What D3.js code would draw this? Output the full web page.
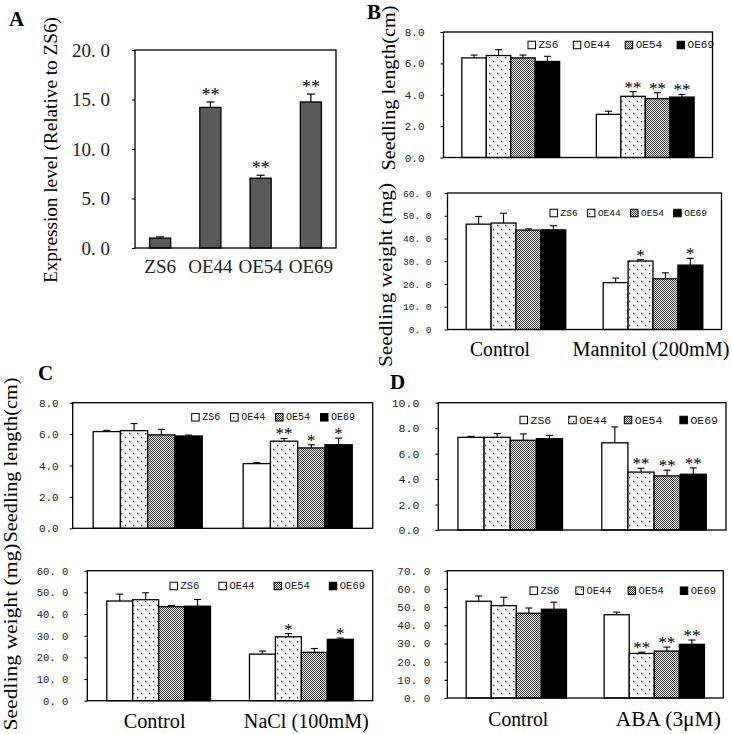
<!DOCTYPE html>
<html>
<head>
<meta charset="utf-8">
<script src="https://cdn.jsdelivr.net/npm/d3@7"></script>
<style>
body{margin:0;background:#fff;}
svg{display:block;}
</style>
</head>
<body>
<script>
// ---------------- DATA ----------------
const lines = ["ZS6", "OE44", "OE54", "OE69"];

// Panel A: expression level
const exprValues = [1.0, 14.2, 7.05, 14.75];
const exprErrors = [0.12, 0.55, 0.3, 0.8];
const exprStars  = ["", "**", "**", "**"];

// Panel B: mannitol
const mannitolConditions = ["Control", "Mannitol (200mM)"];
const mannitolLength     = [[6.35, 6.5, 6.35, 6.12], [2.75, 3.9, 3.75, 3.85]];
const mannitolLengthErr  = [[0.18, 0.37, 0.18, 0.33], [0.2, 0.3, 0.38, 0.17]];
const mannitolLengthStar = [["", "", "", ""], ["", "**", "**", "**"]];
const mannitolWeight     = [[46.3, 46.8, 43.7, 43.8], [20.6, 30.1, 22.3, 28.3]];
const mannitolWeightErr  = [[3.4, 4.3, 0.5, 1.8], [2.0, 0.6, 2.6, 3.0]];
const mannitolWeightStar = [["", "", "", ""], ["", "*", "", "*"]];

// Panel C: NaCl
const naclConditions = ["Control", "NaCl (100mM)"];
const naclLength     = [[6.16, 6.22, 5.95, 5.88], [4.12, 5.55, 5.12, 5.32]];
const naclLengthErr  = [[0.08, 0.45, 0.35, 0.06], [0.07, 0.17, 0.2, 0.42]];
const naclLengthStar = [["", "", "", ""], ["", "**", "*", "*"]];
const naclWeight     = [[46.0, 46.6, 43.4, 43.6], [21.5, 29.5, 22.3, 28.3]];
const naclWeightErr  = [[3.2, 3.2, 0.5, 3.1], [1.4, 1.5, 1.8, 0.6]];
const naclWeightStar = [["", "", "", ""], ["", "*", "", "*"]];

// Panel D: ABA
const abaConditions = ["Control", "ABA (3\u03bcM)"];
const abaLength     = [[7.28, 7.28, 7.05, 7.17], [6.85, 4.55, 4.25, 4.38]];
const abaLengthErr  = [[0.08, 0.3, 0.5, 0.26], [1.25, 0.3, 0.45, 0.5]];
const abaLengthStar = [["", "", "", ""], ["", "**", "**", "**"]];
const abaWeight     = [[53.2, 50.8, 46.6, 48.8], [45.8, 24.5, 25.8, 29.5]];
const abaWeightErr  = [[2.9, 4.6, 2.9, 3.9], [1.4, 0.7, 2.2, 2.4]];
const abaWeightStar = [["", "", "", ""], ["", "**", "**", "**"]];

// ---------------- DRAWING ----------------
const SERIF = "'Liberation Serif','Times New Roman',serif";
const MONO = "'Liberation Mono','Courier New',monospace";

const svg = d3.select("body").append("svg").attr("width", 732).attr("height", 734);
const defs = svg.append("defs");
const pd = defs.append("pattern").attr("id", "dots").attr("patternUnits", "userSpaceOnUse")
  .attr("width", 8).attr("height", 8);
pd.append("rect").attr("width", 8).attr("height", 8).attr("fill", "#fff");
pd.append("rect").attr("x", 1).attr("y", 1).attr("width", 1.3).attr("height", 1.3).attr("fill", "#222");
pd.append("rect").attr("x", 5).attr("y", 5).attr("width", 1.3).attr("height", 1.3).attr("fill", "#222");
const pc = defs.append("pattern").attr("id", "checker").attr("patternUnits", "userSpaceOnUse")
  .attr("width", 2).attr("height", 2);
pc.append("rect").attr("width", 2).attr("height", 2).attr("fill", "#f2f2f2");
pc.append("rect").attr("x", 0).attr("y", 0).attr("width", 1).attr("height", 1).attr("fill", "#3a3a3a");
pc.append("rect").attr("x", 1).attr("y", 1).attr("width", 1).attr("height", 1).attr("fill", "#3a3a3a");

const fillScale = d3.scaleOrdinal().domain(lines).range(["#fff", "url(#dots)", "url(#checker)", "#000"]);

function yTitle(text, cx, cy, len, size) {
  svg.append("text").attr("transform", `translate(${cx},${cy}) rotate(-90)`)
    .attr("text-anchor", "middle").attr("dominant-baseline", "central")
    .attr("font-family", SERIF).attr("font-size", size)
    .attr("textLength", len).attr("lengthAdjust", "spacingAndGlyphs")
    .text(text);
}
function letter(t, x, y) {
  svg.append("text").attr("x", x).attr("y", y).attr("font-family", SERIF)
    .attr("font-weight", "bold").attr("font-size", 21).text(t);
}

function styleAxis(sel, font, size) {
  sel.select(".domain").remove();
  sel.selectAll(".tick line").attr("stroke", "#000");
  sel.selectAll(".tick text").attr("font-family", font).attr("font-size", size).attr("fill", "#222");
}

function legend(x0, xEnd, yc, fs) {
  const g = svg.append("g");
  const sq = 7.5;
  const items = lines.map(l => {
    const t = g.append("text").attr("font-family", MONO).attr("font-size", fs)
      .attr("dominant-baseline", "central").attr("fill", "#111").text(l);
    return {l, t, w: t.node().getComputedTextLength()};
  });
  const total = d3.sum(items, d => sq + 3 + d.w);
  const gap = (xEnd - x0 - total) / (items.length - 1);
  let x = x0;
  items.forEach(d => {
    g.append("rect").attr("x", x).attr("y", yc - sq / 2).attr("width", sq).attr("height", sq)
      .attr("fill", fillScale(d.l)).attr("stroke", "#000").attr("stroke-width", 1);
    d.t.attr("x", x + sq + 3).attr("y", yc);
    x += sq + 3 + d.w + gap;
  });
}

function groupedPanel(p) {
  const g = svg.append("g");
  const [L, R, T, B] = p.box;
  const x0 = d3.scaleBand().domain(p.conditions).range([L, R]).paddingInner(0.273).paddingOuter(0.1365);
  const x1 = d3.scaleBand().domain(lines).range([0, x0.bandwidth()]);
  const y = d3.scaleLinear().domain([0, p.yMax]).range([B, T]);

  p.conditions.forEach((c, ci) => {
    lines.forEach((l, li) => {
      const v = p.values[ci][li], e = p.errors[ci][li], s = p.stars[ci][li];
      const bx = x0(c) + x1(l), bw = x1.bandwidth(), cx = bx + bw / 2;
      g.append("line").attr("x1", cx).attr("x2", cx).attr("y1", y(v)).attr("y2", y(v + e))
        .attr("stroke", "#000").attr("stroke-width", 1.1);
      g.append("line").attr("x1", cx - 3.5).attr("x2", cx + 3.5).attr("y1", y(v + e)).attr("y2", y(v + e))
        .attr("stroke", "#000").attr("stroke-width", 1.1);
      g.append("rect").attr("x", bx).attr("y", y(v)).attr("width", bw).attr("height", y(0) - y(v))
        .attr("fill", fillScale(l)).attr("stroke", "#000").attr("stroke-width", 1.3);
      if (s) g.append("text").attr("x", cx).attr("y", y(v + e) + p.starDy).attr("text-anchor", "middle")
        .attr("font-family", SERIF).attr("font-size", 17).attr("fill", "#000").text(s);
    });
  });
  g.append("rect").attr("x", L).attr("y", T).attr("width", R - L).attr("height", B - T)
    .attr("fill", "none").attr("stroke", "#000").attr("stroke-width", 1.3);
  const ax = d3.axisLeft(y).tickValues(d3.range(0, p.yMax + p.step / 2, p.step))
    .tickSize(3).tickPadding(p.tickPad).tickFormat(p.fmt);
  const ag = g.append("g").attr("transform", `translate(${L},0)`).call(ax);
  styleAxis(ag, MONO, p.tickSize);
  legend(p.legend[0], p.legend[1], p.legend[2], p.legendSize);
  if (p.catLabels) {
    p.conditions.forEach((c, ci) => {
      g.append("text").attr("x", x0(c) + x0.bandwidth() / 2 + p.catDx[ci]).attr("y", B + p.catDy)
        .attr("text-anchor", "middle").attr("font-family", SERIF).attr("font-size", 20)
        .attr("textLength", p.catLen[ci]).attr("lengthAdjust", "spacingAndGlyphs").text(c);
    });
  }
}

const fmtPlain = d => d3.format(".1f")(d);
const fmtSpaced = d => d3.format(".1f")(d).replace(".", ". ");

// ---- Panel A ----
(function () {
  const g = svg.append("g");
  const L = 135, R = 336, T = 50, B = 248;
  const x = d3.scaleBand().domain(lines).range([L, R]).paddingInner(0.58).paddingOuter(0.29);
  const y = d3.scaleLinear().domain([0, 20]).range([B, T]);
  lines.forEach((l, i) => {
    const v = exprValues[i], e = exprErrors[i], cx = x(l) + x.bandwidth() / 2;
    g.append("line").attr("x1", cx).attr("x2", cx).attr("y1", y(v)).attr("y2", y(v + e))
      .attr("stroke", "#000").attr("stroke-width", 1.2);
    g.append("line").attr("x1", cx - 4).attr("x2", cx + 4).attr("y1", y(v + e)).attr("y2", y(v + e))
      .attr("stroke", "#000").attr("stroke-width", 1.2);
    g.append("rect").attr("x", x(l)).attr("y", y(v)).attr("width", x.bandwidth()).attr("height", y(0) - y(v))
      .attr("fill", "#5a5a5a").attr("stroke", "#000").attr("stroke-width", 1.3);
    if (exprStars[i]) g.append("text").attr("x", cx).attr("y", y(v + e) - 1).attr("text-anchor", "middle")
      .attr("font-family", SERIF).attr("font-size", 18).attr("fill", "#000").text(exprStars[i]);
    g.append("text").attr("x", cx).attr("y", 273).attr("text-anchor", "middle")
      .attr("font-family", SERIF).attr("font-size", 19).attr("fill", "#222").text(l);
  });
  g.append("rect").attr("x", L).attr("y", T).attr("width", R - L).attr("height", B - T)
    .attr("fill", "none").attr("stroke", "#000").attr("stroke-width", 1.3);
  const ag = g.append("g").attr("transform", `translate(${L},0)`)
    .call(d3.axisLeft(y).tickValues([0, 5, 10, 15, 20]).tickSize(3).tickPadding(22).tickFormat(fmtSpaced));
  styleAxis(ag, SERIF, 19);
})();
yTitle("Expression level (Relative to ZS6)", 50, 150, 266, 19);
letter("A", 9, 26);

// ---- Panel B ----
groupedPanel({box: [443.5, 712.5, 32, 157.5], conditions: mannitolConditions, yMax: 8, step: 2,
  values: mannitolLength, errors: mannitolLengthErr, stars: mannitolLengthStar, starDy: 1,
  fmt: fmtPlain, tickSize: 11, tickPad: 16, legend: [528, 714, 45], legendSize: 11});
groupedPanel({box: [447.5, 721.5, 193, 329.5], conditions: mannitolConditions, yMax: 60, step: 10,
  values: mannitolWeight, errors: mannitolWeightErr, stars: mannitolWeightStar, starDy: 1,
  fmt: fmtSpaced, tickSize: 9.5, tickPad: 13, legend: [550, 707, 213], legendSize: 9.5,
  catLabels: true, catDx: [-16, -2], catDy: 26, catLen: [60, 157]});
yTitle("Seedling length(cm)", 388, 88, 165, 19);
yTitle("Seedling weight (mg)", 385, 275, 184, 19);
letter("B", 367, 19);

// ---- Panel C ----
groupedPanel({box: [72.7, 372.7, 402.7, 528.3], conditions: naclConditions, yMax: 8, step: 2,
  values: naclLength, errors: naclLengthErr, stars: naclLengthStar, starDy: 1,
  fmt: fmtPlain, tickSize: 11, tickPad: 11, legend: [191.7, 355, 417.3], legendSize: 10});
groupedPanel({box: [87.3, 372.7, 570.7, 700.7], conditions: naclConditions, yMax: 60, step: 10,
  values: naclWeight, errors: naclWeightErr, stars: naclWeightStar, starDy: 1,
  fmt: fmtSpaced, tickSize: 10.5, tickPad: 16, legend: [170, 365, 586], legendSize: 10.5,
  catLabels: true, catDx: [-4, 5], catDy: 27, catLen: [62, 125]});
yTitle("Seedling length(cm)", 10, 460, 165, 19);
yTitle("Seedling weight (mg)", 10, 637, 187, 19);
letter("C", 38, 380);

// ---- Panel D ----
groupedPanel({box: [438.3, 726, 402.7, 530], conditions: abaConditions, yMax: 10, step: 2,
  values: abaLength, errors: abaLengthErr, stars: abaLengthStar, starDy: 1,
  fmt: fmtPlain, tickSize: 11.5, tickPad: 16, legend: [520, 718, 420], legendSize: 11.5});
groupedPanel({box: [447.3, 723.3, 570.7, 698], conditions: abaConditions, yMax: 70, step: 10,
  values: abaWeight, errors: abaWeightErr, stars: abaWeightStar, starDy: 1,
  fmt: fmtSpaced, tickSize: 11, tickPad: 14, legend: [530, 716, 590.7], legendSize: 10.5,
  catLabels: true, catDx: [2, 14], catDy: 28, catLen: [60, 105]});
letter("D", 390, 389);
</script>
</body>
</html>
